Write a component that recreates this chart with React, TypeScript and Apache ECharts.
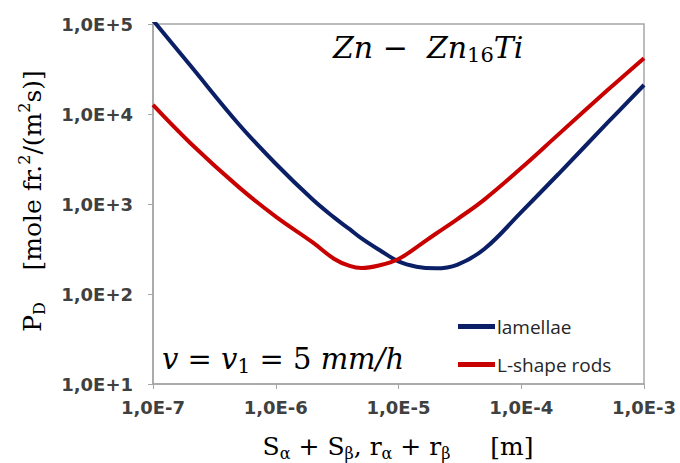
import React, { useEffect, useRef } from "react";
import * as echarts from "echarts";

const xValues = [1e-7, 2e-7, 5e-7, 1e-6, 2e-6, 3e-6, 4e-6, 5e-6, 7e-6, 1e-5, 1.4e-5, 2e-5, 3e-5, 5e-5, 1e-4, 2e-4, 5e-4, 1e-3];
const lamellae = [110000, 35000, 7700, 2800, 1120, 705, 525, 415, 308, 230, 201, 193, 211, 316, 813, 2140, 7900, 21000];
const lShapeRods = [12600, 4800, 1540, 725, 375, 245, 205, 194, 208, 245, 330, 464, 676, 1120, 2510, 5900, 18200, 41700];
const seriesNames = ["lamellae", "L-shape rods"];
const xTicks = [1e-7, 1e-3];
const yTicks = [1e1, 1e5];

const fmt = (v: number) => {
  const e = Math.round(Math.log10(v));
  return "1,0E" + (e >= 0 ? "+" : "-") + Math.abs(e);
};

const serif = "DejaVu Serif";

export default function App() {
  const ref = useRef<HTMLDivElement>(null);
  useEffect(() => {
    const chart = echarts.init(ref.current!, undefined, { renderer: "svg" });
    const subRich = (size: number) => ({
      n: { fontFamily: serif, fontSize: size, lineHeight: size + 6, color: "#262626", verticalAlign: "middle" },
      sub: { fontFamily: serif, fontSize: Math.round(size * 0.65), lineHeight: Math.round(size * 0.6), color: "#262626", verticalAlign: "bottom" },
      sup: { fontFamily: serif, fontSize: Math.round(size * 0.65), lineHeight: Math.round(size * 0.6), color: "#262626", verticalAlign: "top" },
    });
    const mathRich = (size: number) => ({
      n: { fontFamily: serif, fontStyle: "italic", fontSize: size, lineHeight: size + 6, color: "#1a1a1a", verticalAlign: "middle" },
      r: { fontFamily: serif, fontSize: size, lineHeight: size + 6, color: "#1a1a1a", verticalAlign: "middle" },
      sub: { fontFamily: serif, fontSize: Math.round(size * 0.7), lineHeight: Math.round(size * 0.62), color: "#1a1a1a", verticalAlign: "bottom" },
    });
    chart.setOption({
      animation: false,
      grid: {
        left: 153, right: 36, top: 24, bottom: 79,
        outerBoundsMode: "none",
        containLabel: false,
        show: true, borderColor: "#a6a6a6", borderWidth: 1.5, backgroundColor: "transparent",
      },
      legend: {
        orient: "vertical",
        left: 453,
        top: 312,
        icon: "rect",
        itemWidth: 37,
        itemHeight: 5,
        itemGap: 19,
        textStyle: { fontFamily: "Open Sans", fontSize: 19, color: "#262626", lineHeight: 19, padding: [0, 0, 0, -3] },
        data: seriesNames,
      },
      xAxis: {
        type: "log",
        logBase: 10,
        min: xTicks[0],
        max: xTicks[1],
        axisLine: { lineStyle: { color: "#a6a6a6", width: 1.5 } },
        axisTick: { show: true, inside: false, length: 5, lineStyle: { color: "#a6a6a6" } },
        splitLine: { show: false },
        minorTick: { show: false },
        axisLabel: { formatter: fmt, fontFamily: "DejaVu Sans", fontWeight: "bold", fontSize: 18, color: "#404040", margin: 14 },
      },
      yAxis: {
        type: "log",
        logBase: 10,
        min: yTicks[0],
        max: yTicks[1],
        axisLine: { lineStyle: { color: "#a6a6a6", width: 1.5 } },
        axisTick: { show: true, inside: false, length: 5, lineStyle: { color: "#a6a6a6" } },
        splitLine: { show: false },
        axisLabel: { formatter: fmt, fontFamily: "DejaVu Sans", fontWeight: "bold", fontSize: 18, color: "#404040", margin: 20 },
      },
      graphic: [
        {
          type: "text",
          x: 398,
          y: 446,
          style: {
            text: "{n|S}{sub|α}{n| + S}{sub|β}{n|, r}{sub|α}{n| + r}{sub|β}{n|     [m]}",
            rich: subRich(25),
            align: "center",
            verticalAlign: "middle",
          },
        },
        {
          type: "text",
          x: 32,
          y: 201,
          rotation: Math.PI / 2,
          style: {
            text: "{n|P}{sub|D}{n|    [mole fr.}{sup|2}{n|/(m}{sup|2}{n|s)]}",
            rich: subRich(25),
            align: "center",
            verticalAlign: "middle",
          },
        },
        {
          type: "text",
          left: 333,
          top: 32,
          style: {
            text: "{n|Zn}{r| −  }{n|Zn}{sub|16}{n|Ti}",
            rich: mathRich(30),
          },
        },
        {
          type: "text",
          left: 162,
          top: 344,
          style: {
            text: "{n|v}{r| = }{n|v}{sub|1}{r| = 5 }{n|mm/h}",
            rich: mathRich(29),
          },
        },
      ],
      series: [
        {
          name: seriesNames[0],
          type: "line",
          data: xValues.map((x, i) => [x, lamellae[i]]),
          showSymbol: false,
          symbol: "none",
          smooth: 0.4,
          lineStyle: { color: "#0b1f66", width: 4 },
          itemStyle: { color: "#0b1f66" },
        },
        {
          name: seriesNames[1],
          type: "line",
          data: xValues.map((x, i) => [x, lShapeRods[i]]),
          showSymbol: false,
          symbol: "none",
          smooth: 0.4,
          lineStyle: { color: "#c80000", width: 4 },
          itemStyle: { color: "#c80000" },
        },
      ],
    });
    return () => chart.dispose();
  }, []);
  return <div ref={ref} style={{ width: 680, height: 463, position: "absolute", left: 0, top: 0, background: "#fff" }} />;
}
